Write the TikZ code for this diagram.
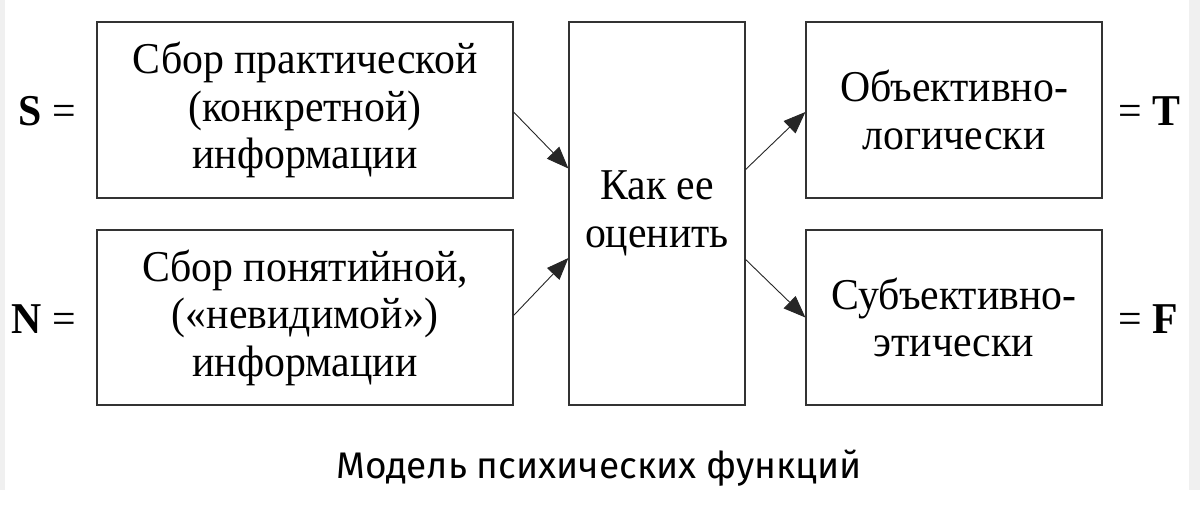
\documentclass[tikz,border=0pt]{standalone}
\usepackage{fontspec}
\setmainfont{Liberation Serif}[FakeStretch=0.95]
\newfontfamily\capfont{Fira Sans}
\usetikzlibrary{arrows.meta}
\begin{document}
\begin{tikzpicture}[x=1pt,y=-1pt,
  box/.style={draw=black!80,line width=1.2pt,rectangle,inner sep=0pt,align=center,
    font=\fontsize{44}{47.5}\selectfont},
  lbl/.style={inner sep=0pt,font=\fontsize{44}{47.5}\selectfont},
  arr/.style={draw=black!85,line width=0.9pt,-{Triangle[length=22pt,width=17pt]}}]
\useasboundingbox (0,0) rectangle (1200,531);
\fill[white] (0,0) rectangle (1200,531);
\fill[black!6] (0,0) rectangle (5,490);
\fill[black!6] (1189,0) rectangle (1200,490);
\node[box,minimum width=416pt,minimum height=176pt] (A) at (305,110)
  {Сбор практической\\(конкретной)\\информации};
\node[box,minimum width=416pt,minimum height=175pt] (B) at (305,317.5)
  {Сбор понятийной,\\(«невидимой»)\\информации};
\node[box,minimum width=176pt,minimum height=383pt] (C) at (657,213.5)
  {Как ее\\оценить};
\node[box,minimum width=296pt,minimum height=176pt] (D) at (954,110)
  {Объективно-\\логически};
\node[box,minimum width=296pt,minimum height=175pt] (E) at (954,317.5)
  {Субъективно-\\этически};
\node[lbl,anchor=east] (S) at (76,111) {\textbf{S} =};
\node[lbl,anchor=east] (N) at (76,319) {\textbf{N} =};
\node[lbl,anchor=west] (T) at (1118,111) {= \textbf{T}};
\node[lbl,anchor=west] (F) at (1118,319) {= \textbf{F}};
\node[inner sep=0pt,font=\capfont\fontsize{37}{44}\selectfont] (cap) at (599,468)
  {Модель психических функций};
\draw[arr] ([yshift=-2pt]A.east) -- ([yshift=45pt]C.west);
\draw[arr] ([yshift=2pt]B.east) -- ([yshift=-44.5pt]C.west);
\draw[arr] ([yshift=44pt]C.east) -- ([yshift=-2pt]D.west);
\draw[arr] ([yshift=-46pt]C.east) -- ([yshift=0pt]E.west);
\end{tikzpicture}
\end{document}
